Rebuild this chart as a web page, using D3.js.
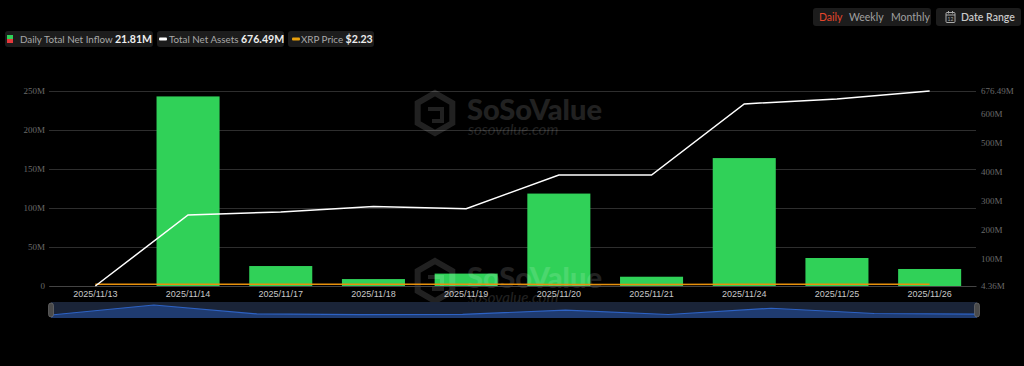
<!DOCTYPE html>
<html><head><meta charset="utf-8">
<script src="https://cdn.jsdelivr.net/npm/d3@7/dist/d3.min.js"></script>
<style>
html,body{margin:0;padding:0;background:#000;}
svg{display:block;}
</style></head>
<body>
<svg id="c" width="1024" height="366"></svg>
<script>
const dates = ["2025/11/13","2025/11/14","2025/11/17","2025/11/18","2025/11/19","2025/11/20","2025/11/21","2025/11/24","2025/11/25","2025/11/26"];
const netInflow = [0, 243.05, 25.6, 8.9, 15.9, 118.5, 11.9, 164.0, 35.9, 21.81];
const totalNetAssets = [4.36, 249.0, 259.5, 278.0, 270.5, 387.0, 387.0, 632.0, 649.0, 676.49];
const xrpPrice = [2.38, 2.27, 2.18, 2.20, 2.14, 2.03, 1.94, 2.17, 2.20, 2.23];
const leftTicks = [0, 50, 100, 150, 200, 250];
const rightTicks = [4.36, 100, 200, 300, 400, 500, 600, 676.49];

const svg = d3.select("#c");
const L = 49, R = 976, T = 91, B = 286;

const x = d3.scaleBand().domain(dates).range([L, R]).paddingInner(0.32).paddingOuter(0.16);
const yL = d3.scaleLinear().domain([0, 250]).range([B, T]);
const yR = d3.scaleLinear().domain([4.36, 676.49]).range([B, T]);
const cx = d => x(d) + x.bandwidth() / 2;

// grid
svg.append("g").selectAll("line").data(leftTicks).join("line")
  .attr("x1", L).attr("x2", R).attr("y1", d => yL(d) + 0.5).attr("y2", d => yL(d) + 0.5)
  .attr("stroke", "#2e2e2e").attr("stroke-width", 1);

// left axis
const axL = svg.append("g").attr("transform", `translate(${L},0)`)
  .call(d3.axisLeft(yL).tickValues(leftTicks).tickSize(0).tickPadding(4).tickFormat(d => d === 0 ? "0" : d + "M"));
axL.select(".domain").remove();
axL.selectAll("text").attr("fill", "#6a6a6a").style("font-family", "'Liberation Serif', serif").style("font-size", "9px");

// right axis
const fmtR = d => (Number.isInteger(d) ? d : d.toFixed(2)) + "M";
const axR = svg.append("g").attr("transform", `translate(${R},0)`)
  .call(d3.axisRight(yR).tickValues(rightTicks).tickSize(0).tickPadding(5).tickFormat(fmtR));
axR.select(".domain").remove();
axR.selectAll("text").attr("fill", "#6a6a6a").style("font-family", "'Liberation Serif', serif").style("font-size", "9px");

// bars
svg.append("g").selectAll("rect").data(dates).join("rect")
  .attr("x", d => x(d)).attr("width", x.bandwidth())
  .attr("y", (d, i) => yL(netInflow[i])).attr("height", (d, i) => B - yL(netInflow[i]))
  .attr("fill", "#30d158");

// watermarks
function watermark(yOff) {
  const g = svg.append("g").attr("transform", `translate(0,${yOff})`).attr("opacity", 0.13);
  const hx = 435, hy = 113, r = 20;
  const pts = d3.range(6).map(k => {
    const a = Math.PI / 3 * k - Math.PI / 2;
    return [hx + r * Math.cos(a), hy + r * Math.sin(a)];
  });
  g.append("path").attr("d", "M" + pts.join("L") + "Z").attr("fill", "none").attr("stroke", "#fff").attr("stroke-width", 6);
  g.append("path").attr("d", `M${hx-7},${hy-4}L${hx+7},${hy-4}L${hx+7},${hy+8}L${hx-3},${hy+8}`).attr("fill", "none").attr("stroke", "#fff").attr("stroke-width", 4);
  g.append("text").attr("x", 467).attr("y", 120).text("SoSoValue")
    .attr("fill", "#fff").style("font-family", "Lato, sans-serif").style("font-weight", "900").style("font-size", "29px");
  g.append("text").attr("x", 468).attr("y", 135).text("sosovalue.com")
    .attr("fill", "#fff").style("font-family", "Lato, sans-serif").style("font-style", "italic").style("font-size", "15px");
}
watermark(0);
watermark(168);

// x axis
const axX = svg.append("g").attr("transform", `translate(0,${B})`)
  .call(d3.axisBottom(x).tickSize(0).tickPadding(5));
axX.select(".domain").attr("stroke", "#444");
axX.selectAll("text").attr("fill", "#c8c8c8").style("font-family", "'Liberation Sans', Arial, sans-serif").style("font-size", "9px");

// XRP price line (on left axis -> sits on baseline)
svg.append("path").datum(dates)
  .attr("d", d3.line().x(d => cx(d)).y((d, i) => yL(xrpPrice[i])))
  .attr("fill", "none").attr("stroke", "#e8900c").attr("stroke-width", 1.5);

// Total net assets line
svg.append("path").datum(dates)
  .attr("d", d3.line().x(d => cx(d)).y((d, i) => yR(totalNetAssets[i])))
  .attr("fill", "none").attr("stroke", "#ffffff").attr("stroke-width", 1.5);

// slider
const sx = d3.scaleLinear().domain([0, dates.length - 1]).range([51, 977]);
const sy = d3.scaleLinear().domain([0, d3.max(netInflow)]).range([315, 305]);
svg.append("rect").attr("x", 51).attr("y", 302).attr("width", 926).attr("height", 16).attr("fill", "#1a2438");
svg.append("path").datum(netInflow)
  .attr("d", d3.area().x((d, i) => sx(i)).y0(318).y1(d => sy(d)))
  .attr("fill", "#1f3b70");
svg.append("path").datum(netInflow)
  .attr("d", d3.line().x((d, i) => sx(i)).y(d => sy(d)))
  .attr("fill", "none").attr("stroke", "#2d62c4").attr("stroke-width", 1.2);
[51, 977].forEach(hxp => {
  svg.append("rect").attr("x", hxp - 2.5).attr("y", 303).attr("width", 5).attr("height", 14).attr("rx", 2.5)
    .attr("fill", "#4a4a4a").attr("stroke", "#777").attr("stroke-width", 0.6);
});

// legend
const legend = [
  {label: "Daily Total Net Inflow", value: "21.81M", type: "bar", x: 5, w: 148, ix: 2, tx: 15},
  {label: "Total Net Assets", value: "676.49M", type: "white", x: 157, w: 127, ix: 2, tx: 12},
  {label: "XRP Price", value: "$2.23", type: "orange", x: 288, w: 86, ix: 4, tx: 13}
];
const lg = svg.append("g");
legend.forEach(l => {
  const g = lg.append("g").attr("transform", `translate(${l.x},31)`);
  g.append("rect").attr("height", 16).attr("width", l.w).attr("rx", 3).attr("fill", "#1c1c1c");
  if (l.type === "bar") {
    g.append("rect").attr("x", l.ix).attr("y", 4).attr("width", 6).attr("height", 4).attr("fill", "#30d158");
    g.append("rect").attr("x", l.ix).attr("y", 8).attr("width", 6).attr("height", 4).attr("fill", "#e5383b");
  } else {
    g.append("rect").attr("x", l.ix).attr("y", 6.5).attr("width", 8).attr("height", 3).attr("rx", 1)
      .attr("fill", l.type === "white" ? "#fff" : "#e8a00c");
  }
  const t = g.append("text").attr("x", l.tx).attr("y", 12)
    .style("font-family", "Lato, sans-serif");
  t.append("tspan").text(l.label + " ").attr("fill", "#a8a8a8").style("font-size", "9.8px");
  t.append("tspan").text(l.value).attr("fill", "#eeeeee").style("font-size", "10.6px").style("font-weight", "700");
});

// top-right buttons
svg.append("rect").attr("x", 813).attr("y", 8).attr("width", 118).attr("height", 18).attr("rx", 3).attr("fill", "#1c1c1c");
[["Daily", 819, "#e5452a"], ["Weekly", 849, "#a0a0a0"], ["Monthly", 891, "#a0a0a0"]].forEach(([tx, xx, col]) => {
  svg.append("text").attr("x", xx).attr("y", 21).text(tx).attr("fill", col)
    .style("font-family", "Lato, sans-serif").style("font-size", "10.5px");
});
svg.append("rect").attr("x", 936).attr("y", 8).attr("width", 85).attr("height", 18).attr("rx", 3).attr("fill", "#1c1c1c");
const cal = svg.append("g").attr("transform", "translate(946,11)");
cal.append("rect").attr("x", 0).attr("y", 1.5).attr("width", 9).attr("height", 10).attr("rx", 1).attr("fill", "none").attr("stroke", "#aaa").attr("stroke-width", 1);
cal.append("line").attr("x1", 0).attr("x2", 9).attr("y1", 4).attr("y2", 4).attr("stroke", "#aaa");
cal.append("line").attr("x1", 2.5).attr("x2", 2.5).attr("y1", 0).attr("y2", 2.5).attr("stroke", "#aaa");
cal.append("line").attr("x1", 6.5).attr("x2", 6.5).attr("y1", 0).attr("y2", 2.5).attr("stroke", "#aaa");
cal.append("text").attr("x", 4.5).attr("y", 10).attr("text-anchor", "middle").text("12").attr("fill", "#aaa").style("font-size", "5px").style("font-family", "Lato, sans-serif");
svg.append("text").attr("x", 961).attr("y", 21).text("Date Range").attr("fill", "#c8c8c8")
  .style("font-family", "Lato, sans-serif").style("font-size", "10.5px").style("font-weight", "600");
</script>
</body></html>
